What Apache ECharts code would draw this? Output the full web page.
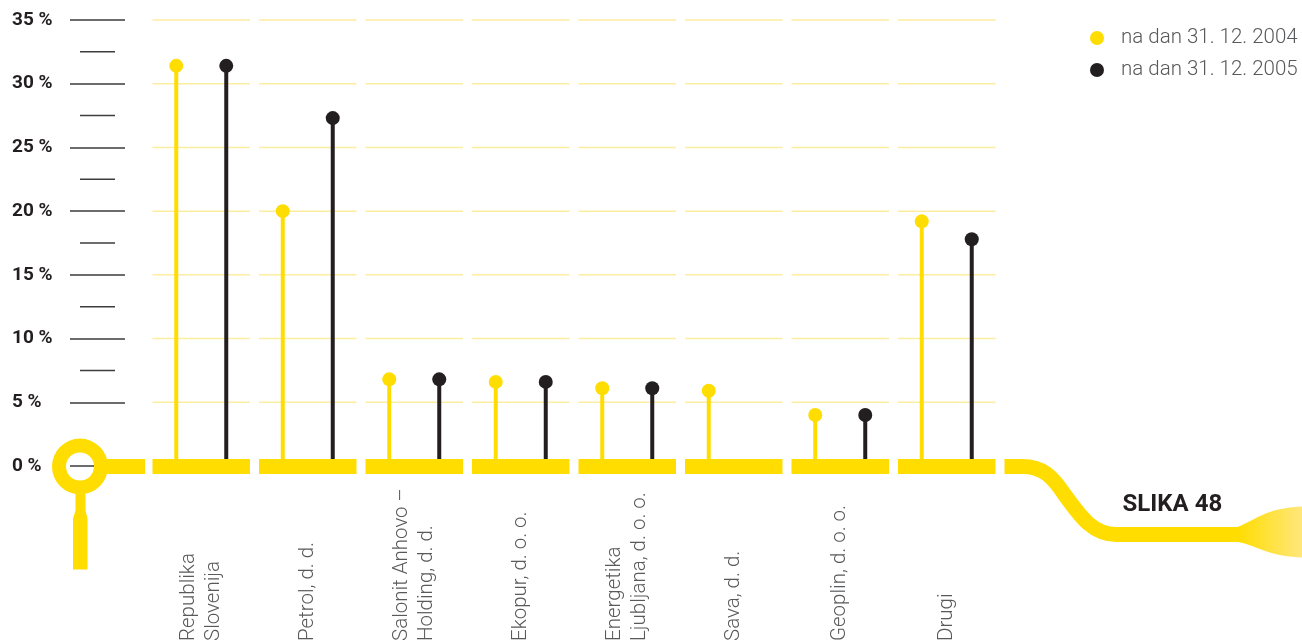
<!DOCTYPE html>
<html>
<head>
<meta charset="utf-8">
<script src="https://cdn.jsdelivr.net/npm/echarts@6/dist/echarts.min.js"></script>
<style>
html,body{margin:0;padding:0;background:#fff;}
#main{width:1302px;height:644px;}
</style>
</head>
<body>
<div id="main"></div>
<script>
const categories = [
  'Republika\nSlovenija',
  'Petrol, d. d.',
  'Salonit Anhovo –\nHolding, d. d.',
  'Ekopur, d. o. o.',
  'Energetika\nLjubljana, d. o. o.',
  'Sava, d. d.',
  'Geoplin, d. o. o.',
  'Drugi'
];
const seriesNames = ['na dan 31. 12. 2004', 'na dan 31. 12. 2005'];
const values2004 = [31.4, 20.0, 6.8, 6.6, 6.1, 5.9, 4.0, 19.2];
const values2005 = [31.4, 27.3, 6.8, 6.6, 6.1, '-', 4.0, 17.8];
const gridTicks = [5, 10, 15, 20, 25, 30, 35];
const minorTicks = [7.5, 12.5, 17.5, 22.5, 27.5, 32.5];
const yMin = 0, yMax = 35, yInterval = 5;
const figureLabel = 'SLIKA 48';

const YELLOW = '#FFDD00';
const BLACK = '#231F20';
const PALE = '#FDEDA0';
const GRAY = '#58595B';

const chart = echarts.init(document.getElementById('main'));

function renderDecor(params, api) {
  const c0 = api.coord([0, 0]);
  const cN = api.coord([categories.length - 1, 0]);
  const halfCat = api.size([1, 0])[0] / 2;
  const y0 = c0[1] + 0.5;
  const endX = cN[0] + halfCat + 4.5;
  const yLow = y0 + 68;
  const curve =
    'M' + endX + ' ' + y0 + ' L' + (endX + 18) + ' ' + y0 +
    ' C' + (endX + 38) + ' ' + y0 + ' ' + (endX + 48) + ' ' + (y0 + 10) + ' ' + (endX + 60) + ' ' + (y0 + 28) +
    ' C' + (endX + 76) + ' ' + (y0 + 50) + ' ' + (endX + 88) + ' ' + yLow + ' ' + (endX + 112) + ' ' + yLow +
    ' L' + (endX + 240) + ' ' + yLow;
  const paddle =
    'M' + (endX + 233) + ' ' + (yLow - 7.5) +
    ' C' + (endX + 251) + ' ' + (yLow - 14) + ' ' + (endX + 261) + ' ' + (yLow - 27) + ' ' + (endX + 300) + ' ' + (yLow - 28) +
    ' L' + (endX + 300) + ' ' + (yLow + 23) +
    ' C' + (endX + 261) + ' ' + (yLow + 22) + ' ' + (endX + 251) + ' ' + (yLow + 10) + ' ' + (endX + 233) + ' ' + (yLow + 7.5) + ' Z';
  return {
    type: 'group',
    children: [
      {type: 'ring', shape: {cx: 80, cy: y0, r: 28, r0: 14}, style: {fill: YELLOW}},
      {type: 'rect', shape: {x: 100, y: y0 - 7.5, width: 45, height: 15}, style: {fill: YELLOW}},
      {type: 'polygon', shape: {points: [[75.5, y0 + 25], [85.5, y0 + 25], [85.5, y0 + 44], [87.5, y0 + 52],
          [87.5, y0 + 103], [73, y0 + 103], [73, y0 + 52], [75.5, y0 + 44]]}, style: {fill: YELLOW}},
      {type: 'path', shape: {pathData: curve}, style: {fill: 'none', stroke: YELLOW, lineWidth: 15}},
      {type: 'path', shape: {pathData: paddle}, style: {fill: {
          type: 'linear', x: 0, y: 0, x2: 1, y2: 0,
          colorStops: [{offset: 0, color: YELLOW}, {offset: 1, color: '#FFE780'}]}}},
      {type: 'text', x: endX + 118, y: yLow - 30, style: {text: figureLabel, fontFamily: 'Roboto', fontWeight: 'bold',
          fontSize: 24, fill: BLACK, verticalAlign: 'middle', align: 'left'}}
    ]
  };
}

chart.setOption({
  animation: false,
  grid: {left: 148, right: 302, top: 20, bottom: 178, containLabel: false},
  legend: {
    orient: 'vertical',
    left: 1085,
    top: 22,
    itemWidth: 38,
    itemHeight: 14,
    itemGap: 10,
    selectedMode: false,
    textStyle: {fontFamily: 'Roboto', fontWeight: 300, fontSize: 20.5, color: GRAY, lineHeight: 22},
    data: [
      {name: seriesNames[0], icon: 'circle', itemStyle: {color: YELLOW}},
      {name: seriesNames[1], icon: 'circle', itemStyle: {color: BLACK}}
    ]
  },
  xAxis: {
    type: 'category',
    data: categories,
    axisLine: {show: false},
    axisTick: {show: false},
    splitLine: {show: false},
    axisLabel: {
      interval: 0,
      rotate: 90,
      align: 'left',
      verticalAlign: 'middle',
      margin: 175,
      fontFamily: 'Roboto',
      fontWeight: 300,
      fontSize: 20.5,
      lineHeight: 25,
      color: GRAY
    }
  },
  yAxis: {
    type: 'value',
    min: yMin,
    max: yMax,
    interval: yInterval,
    offset: 23,
    axisLine: {show: false},
    splitLine: {show: false},
    axisTick: {show: true, length: 55, lineStyle: {color: '#3d3d3d', width: 1.5}},
    axisLabel: {
      formatter: '{value} %',
      align: 'left',
      margin: 113,
      fontFamily: 'Roboto',
      fontWeight: 'bold',
      fontSize: 19,
      color: BLACK
    }
  },
  series: [
    {
      type: 'custom',
      name: 'gridSegments',
      z: 1,
      silent: true,
      data: categories.map((c, i) => i),
      renderItem: function (params, api) {
        const idx = api.value(0);
        const c = api.coord([idx, 0]);
        const half = api.size([1, 0])[0] / 2 - 4.5;
        const children = gridTicks.map(t => {
          const y = api.coord([idx, t])[1];
          return {type: 'line', shape: {x1: c[0] - half, y1: y, x2: c[0] + half, y2: y},
                  style: {stroke: PALE, lineWidth: 1.5}};
        });
        return {type: 'group', children: children};
      },
      encode: {x: 0}
    },
    {
      type: 'custom',
      name: 'minorTicks',
      z: 1,
      silent: true,
      data: minorTicks.map(v => [0, v]),
      renderItem: function (params, api) {
        const y = api.coord([0, api.value(1)])[1];
        return {type: 'line', shape: {x1: 80, y1: y, x2: 115, y2: y},
                style: {stroke: '#3d3d3d', lineWidth: 1.5}};
      },
      encode: {x: 0, y: 1}
    },
    {
      type: 'bar', name: seriesNames[0], data: values2004, barWidth: 4, barGap: '1150%', z: 2,
      itemStyle: {color: YELLOW}, silent: true
    },
    {
      type: 'bar', name: seriesNames[1], data: values2005, barWidth: 4, barGap: '1150%', z: 2,
      itemStyle: {color: BLACK}, silent: true
    },
    {
      type: 'scatter', name: seriesNames[0], data: values2004, symbol: 'circle', symbolSize: 14,
      symbolOffset: [-25, 0], itemStyle: {color: YELLOW, opacity: 1}, z: 3, silent: true
    },
    {
      type: 'scatter', name: seriesNames[1], data: values2005, symbol: 'circle', symbolSize: 14,
      symbolOffset: [25, 0], itemStyle: {color: BLACK, opacity: 1}, z: 3, silent: true
    },
    {
      type: 'custom',
      name: 'band',
      z: 5,
      silent: true,
      data: categories.map((c, i) => i),
      renderItem: function (params, api) {
        const idx = api.value(0);
        const c = api.coord([idx, 0]);
        const half = api.size([1, 0])[0] / 2 - 4.5;
        return {type: 'rect', shape: {x: c[0] - half, y: c[1] - 7, width: half * 2, height: 15},
                style: {fill: YELLOW}};
      },
      encode: {x: 0}
    },
    {
      type: 'custom',
      name: 'decor',
      z: 6,
      silent: true,
      clip: false,
      data: [[0, 0]],
      renderItem: renderDecor,
      encode: {x: 0, y: 1}
    }
  ]
});
</script>
</body>
</html>
